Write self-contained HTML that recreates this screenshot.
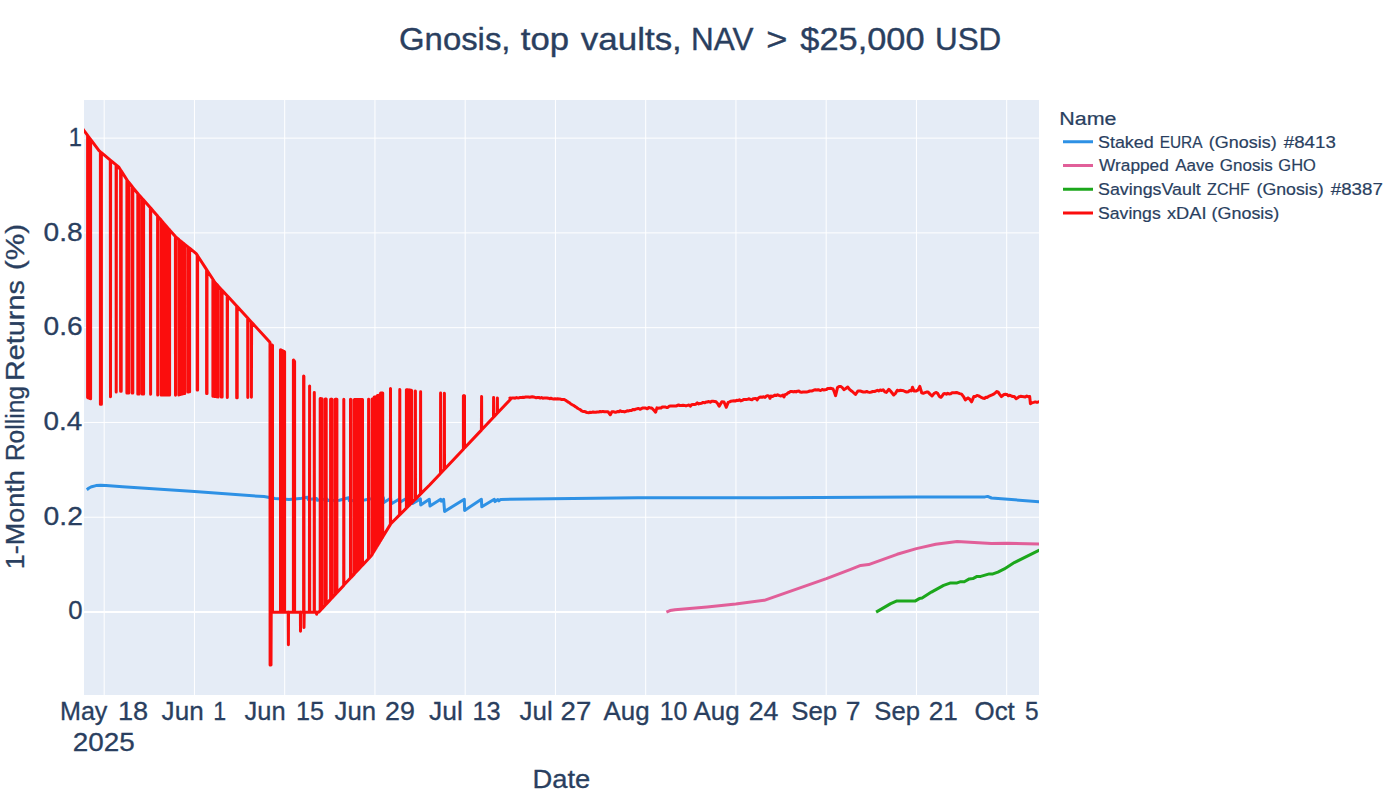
<!DOCTYPE html>
<html><head><meta charset="utf-8"><title>Gnosis, top vaults</title>
<style>
html,body{margin:0;padding:0;background:#fff;}
body{width:1400px;height:800px;overflow:hidden;}
svg{display:block;}
text{font-family:"Liberation Sans",sans-serif;fill:#2a3f5f;stroke:#2a3f5f;}
</style></head><body>
<svg width="1400" height="800" viewBox="0 0 1400 800">
<defs><clipPath id="c"><rect x="84" y="100" width="955" height="595"/></clipPath></defs>
<rect width="1400" height="800" fill="#fff"/>
<rect x="84" y="100" width="955" height="595" fill="#e5ecf6"/>
<rect x="103.70" y="100" width="1" height="595" fill="#fff"/>
<rect x="193.95" y="100" width="1" height="595" fill="#fff"/>
<rect x="284.20" y="100" width="1" height="595" fill="#fff"/>
<rect x="374.45" y="100" width="1" height="595" fill="#fff"/>
<rect x="464.70" y="100" width="1" height="595" fill="#fff"/>
<rect x="554.95" y="100" width="1" height="595" fill="#fff"/>
<rect x="645.20" y="100" width="1" height="595" fill="#fff"/>
<rect x="735.45" y="100" width="1" height="595" fill="#fff"/>
<rect x="825.70" y="100" width="1" height="595" fill="#fff"/>
<rect x="915.95" y="100" width="1" height="595" fill="#fff"/>
<rect x="1006.20" y="100" width="1" height="595" fill="#fff"/>
<rect x="84" y="516.72" width="955" height="1" fill="#fff"/>
<rect x="84" y="421.94" width="955" height="1" fill="#fff"/>
<rect x="84" y="327.16" width="955" height="1" fill="#fff"/>
<rect x="84" y="232.38" width="955" height="1" fill="#fff"/>
<rect x="84" y="137.60" width="955" height="1" fill="#fff"/>
<rect x="84" y="611.00" width="955" height="2" fill="#fff"/>
<g clip-path="url(#c)" fill="none" stroke-linejoin="round" stroke-linecap="butt">
<path d="M86.8,489.7L89.0,488.0L91.7,486.7L96.0,485.6L100.7,485.2L106.0,485.4L122.6,486.7L194.6,491.6L264.0,496.6L275.0,498.4L289.0,499.4L300.0,498.6L307.4,497.2L308.2,499.6L316.6,498.6L317.4,500.3L327.0,499.0L328.0,500.6L339.4,500.2L348.6,497.7L349.4,500.8L364.6,500.0L372.0,498.6L383.4,497.8L383.9,502.5L390.6,498.3L391.1,504.0L399.4,499.0L399.9,502.2L405.0,499.2L411.5,497.9L412.2,503.6L420.4,498.9L420.7,505.0L429.3,499.3L430.0,506.1L440.7,499.3L441.4,501.2L443.6,499.3L444.6,511.4L464.3,499.3L464.6,510.4L481.4,499.3L481.8,506.8L494.3,499.3L495.0,501.6L497.9,499.6L498.9,500.8L500.7,499.4L638.0,497.7L770.0,497.7L916.0,497.1L985.0,496.9L987.6,496.4L991.5,498.0L1039.0,501.7L1041.0,501.9" stroke="#2E91E5" stroke-width="3"/>
<path d="M666.4,612.1L670.0,610.6L675.0,609.7L707.1,606.9L735.7,604.0L764.3,600.3L826.4,578.6L850.0,569.7L860.7,565.4L868.6,564.6L897.1,554.3L916.4,548.6L935.7,544.3L957.1,541.4L991.4,543.6L1007.1,543.3L1038.9,544.0L1041.0,544.0" stroke="#E15F99" stroke-width="3"/>
<path d="M876.1,612.1L890.7,603.6L896.4,601.1L915.0,601.1L919.3,598.6L922.1,598.1L931.4,592.1L943.6,585.4L950.0,583.1L957.1,582.9L960.7,581.7L964.3,581.7L969.3,578.9L972.9,578.6L977.1,576.4L980.7,576.4L989.3,573.9L992.9,573.9L997.9,572.1L1004.3,568.9L1014.3,562.6L1038.9,550.4L1041.0,549.4" stroke="#1CA71C" stroke-width="3"/>
<path d="M82.0,127.9L84.0,130.6L87.6,135.4L87.6,397.6L88.1,397.8L88.1,136.1L88.6,136.7L88.6,398.0L89.1,398.1L89.1,137.4L89.6,138.1L89.6,398.3L90.1,398.5L90.1,138.8L90.6,139.4L90.6,398.7L90.6,139.4L99.0,150.7L100.4,151.9L100.4,404.2L100.9,404.2L100.9,152.3L101.4,152.7L101.4,404.2L101.4,152.7L110.3,160.1L110.5,396.7L110.6,160.3L116.1,164.9L116.2,392.1L116.4,165.1L118.6,166.9L120.6,170.0L120.6,391.2L120.9,391.2L120.9,170.5L121.2,170.9L121.2,391.2L121.2,170.9L126.9,179.8L126.9,393.0L127.3,393.0L127.3,180.4L127.8,181.1L127.8,393.0L128.2,393.0L128.2,181.6L128.7,182.2L128.7,393.0L128.7,182.2L132.1,186.5L132.1,393.1L132.4,393.1L132.4,187.0L132.8,187.5L132.8,393.1L132.8,187.5L133.8,188.7L137.8,193.5L137.8,394.1L138.1,394.1L138.1,193.9L138.4,194.2L138.4,394.1L138.7,394.1L138.7,194.6L139.1,195.0L139.1,394.1L139.1,195.0L140.0,196.1L142.2,198.5L142.2,394.1L142.6,394.1L142.6,198.9L142.9,199.3L142.9,394.1L143.3,394.1L143.3,199.6L143.6,200.0L143.6,394.1L143.6,200.0L146.2,202.9L150.4,207.8L150.6,394.2L150.7,208.1L153.8,211.7L157.6,216.1L157.7,394.9L157.8,216.4L161.1,220.1L161.1,394.9L161.6,394.9L161.6,220.7L162.1,221.3L162.1,394.9L162.7,394.9L162.7,221.9L163.2,222.6L163.2,394.9L163.7,394.9L163.7,223.2L164.3,223.8L164.3,394.9L164.8,394.9L164.8,224.4L165.3,225.0L165.3,394.9L165.9,394.9L165.9,225.6L166.4,226.2L166.4,394.9L166.9,394.9L166.9,226.9L167.5,227.5L167.5,394.9L168.0,394.9L168.0,228.1L168.5,228.7L168.5,394.9L169.1,394.9L169.1,229.3L169.6,229.9L169.6,394.9L169.6,229.9L175.4,236.6L175.5,395.3L175.6,236.9L176.0,237.3L178.8,239.5L178.8,394.9L179.2,394.8L179.2,239.9L179.7,240.3L179.7,394.7L180.2,394.5L180.2,240.7L180.7,241.1L180.7,394.4L181.2,394.3L181.2,241.5L181.7,241.9L181.7,394.1L182.2,394.0L182.2,242.3L182.7,242.7L182.7,393.9L183.2,393.8L183.2,243.1L183.7,243.5L183.7,393.6L184.2,393.5L184.2,243.9L184.7,244.3L184.7,393.4L184.7,244.3L187.9,246.9L187.9,392.1L188.4,392.0L188.4,247.3L188.8,247.6L188.8,391.9L189.2,391.8L189.2,247.9L189.6,248.2L189.6,391.7L189.6,248.2L196.2,253.6L197.2,255.1L197.2,389.9L197.4,389.9L197.4,255.4L197.6,255.7L197.6,389.9L197.6,255.7L206.6,269.6L206.6,393.6L206.8,393.6L206.8,269.9L207.0,270.2L207.0,393.6L207.0,270.2L212.9,279.3L212.9,396.2L213.4,396.3L213.4,280.1L213.9,280.9L213.9,396.3L214.5,396.4L214.5,281.7L215.0,282.5L215.0,396.5L215.5,396.6L215.5,283.0L216.0,283.6L216.0,396.6L216.5,396.7L216.5,284.2L217.1,284.7L217.1,396.8L217.6,396.8L217.6,285.3L218.1,285.9L218.1,396.9L218.1,285.9L221.3,289.4L221.3,397.1L221.7,397.1L221.7,289.8L222.1,290.2L222.1,397.1L222.1,290.2L227.2,295.8L227.3,397.6L227.5,296.1L236.7,306.1L236.7,397.8L236.9,397.8L236.9,306.4L237.2,306.6L237.2,397.8L237.2,306.6L247.7,318.1L247.8,397.6L247.9,318.3L251.3,322.0L251.4,397.3L251.6,322.3L269.0,341.2L270.0,342.4L270.0,342.4L270.1,665.0L271.0,665.0L271.2,612.3L271.3,344.8L271.9,612.3L272.5,345.2L272.5,612.3L280.5,612.3L280.5,349.8L281.0,350.0L281.0,612.3L281.5,612.3L281.5,350.3L282.0,350.5L282.0,612.3L282.6,612.3L282.6,350.8L283.1,351.0L283.1,612.3L283.6,612.3L283.6,351.3L284.1,351.5L284.1,612.3L284.6,612.3L284.6,351.8L284.6,612.3L288.2,612.3L288.4,644.7L288.5,612.3L293.4,612.3L293.4,359.9L293.7,360.2L293.7,612.3L294.0,612.3L294.0,360.5L294.3,361.0L294.3,612.3L294.6,612.3L294.6,361.5L294.6,612.3L300.4,612.3L300.5,631.2L300.6,612.3L303.6,612.3L303.6,375.9L303.9,376.3L304.0,627.5L304.2,612.3L309.4,612.3L309.6,385.9L309.7,612.3L314.2,612.3L314.3,392.5L314.4,612.3L316.5,612.3L316.6,614.3L316.8,612.3L318.6,612.3L320.2,610.6L320.2,398.6L320.6,398.6L320.6,610.1L321.1,609.6L321.1,398.7L321.6,398.7L321.6,609.1L322.0,608.6L322.0,398.7L322.0,608.6L325.2,605.2L325.2,398.9L325.7,398.9L325.7,604.6L326.2,604.1L326.2,399.0L326.2,604.1L330.6,599.4L330.6,399.2L331.0,399.2L331.0,599.0L331.3,598.7L331.3,399.2L331.6,399.2L331.6,598.3L332.0,597.9L332.0,399.2L332.0,597.9L335.2,594.4L335.2,399.2L335.7,399.2L335.7,594.0L336.1,593.5L336.1,399.2L336.5,399.2L336.5,593.1L336.9,592.7L336.9,399.2L336.9,592.7L343.7,585.4L343.8,399.2L343.9,585.1L350.5,578.0L350.5,399.3L350.8,399.4L350.8,577.7L351.1,577.4L351.1,399.4L351.1,577.4L354.4,573.9L354.4,399.5L354.9,399.5L354.9,573.3L355.4,572.8L355.4,399.5L355.9,399.5L355.9,572.2L356.4,571.7L356.4,399.5L356.9,399.5L356.9,571.1L357.4,570.6L357.4,399.5L357.9,399.5L357.9,570.1L358.4,569.5L358.4,399.6L359.0,399.6L359.0,569.0L359.5,568.4L359.5,399.6L360.0,399.6L360.0,567.9L360.5,567.3L360.5,399.6L361.0,399.6L361.0,566.8L361.5,566.3L361.5,399.5L362.0,399.5L362.0,565.7L362.5,565.2L362.5,399.5L362.5,565.2L368.5,558.7L368.6,399.2L368.8,558.4L371.5,555.5L372.1,554.6L372.1,399.1L372.6,399.1L372.6,553.7L373.1,552.8L373.1,399.1L373.6,399.1L373.6,552.0L374.2,551.1L374.2,396.9L374.7,396.9L374.7,550.2L375.2,549.3L375.2,396.9L375.8,396.9L375.8,548.5L376.3,547.6L376.3,396.9L376.8,396.3L376.8,546.7L377.4,545.8L377.4,395.4L377.9,395.4L377.9,544.9L378.4,544.1L378.4,395.4L379.0,395.4L379.0,543.2L379.5,542.3L379.5,395.4L380.0,394.5L380.0,541.4L380.6,540.6L380.6,393.1L381.1,393.1L381.1,539.7L381.6,538.8L381.6,393.1L382.2,393.1L382.2,537.9L382.7,537.0L382.7,393.1L382.7,537.0L390.4,524.4L390.5,388.6L390.6,524.0L390.8,523.7L399.6,514.9L399.8,389.4L399.9,514.7L406.4,508.1L406.4,389.7L406.9,389.7L406.9,507.6L407.5,507.1L407.5,389.8L408.0,389.8L408.0,506.6L408.5,506.0L408.5,389.9L409.0,390.0L409.0,505.5L409.6,505.0L409.6,390.0L410.1,390.1L410.1,504.4L410.6,503.9L410.6,390.2L411.2,390.3L411.2,503.4L411.7,502.9L411.7,390.4L411.7,502.9L415.2,499.3L415.4,390.9L415.5,499.1L420.5,494.1L420.6,391.7L420.7,493.9L429.6,485.0L440.5,473.5L440.6,392.9L440.7,473.2L444.2,469.5L444.4,393.3L444.5,469.2L463.4,449.2L463.4,395.7L463.7,395.8L463.7,448.9L463.9,448.6L463.9,395.8L464.2,395.8L464.2,448.3L464.5,448.0L464.5,395.8L464.5,448.0L481.4,430.1L481.6,396.5L481.7,429.8L493.5,417.2L493.6,397.5L493.8,417.0L497.3,413.3L497.4,397.9L497.5,413.0L511.0,398.8L509.9,397.9L511.2,398.3L511.2,398.3L512.5,398.1L513.8,397.9L515.1,398.2L516.5,397.6L517.8,397.9L519.1,397.7L520.4,397.4L521.7,397.6L523.0,397.2L524.3,397.4L525.6,397.0L527.0,397.0L528.3,397.1L529.6,397.3L530.9,397.0L532.2,396.8L533.6,397.0L534.9,397.4L536.2,397.8L537.6,397.6L538.9,397.5L540.3,398.1L541.6,397.5L542.9,398.2L544.3,397.9L545.6,397.9L546.9,398.0L548.3,398.2L549.6,398.7L550.9,398.3L552.3,398.7L553.6,398.9L554.9,398.8L556.3,399.0L557.6,398.8L559.0,398.9L560.3,399.1L561.6,399.5L563.0,399.4L564.3,399.6L565.6,400.3L567.0,401.3L568.3,402.1L569.6,402.8L570.9,404.0L572.3,404.8L573.6,405.3L574.9,406.4L576.3,407.2L577.6,408.3L578.9,409.0L580.2,409.6L581.6,410.9L582.9,411.4L584.4,411.4L585.8,412.0L587.2,412.6L588.7,412.7L590.1,412.3L591.5,412.4L593.0,412.0L594.4,412.3L595.8,412.2L597.2,412.0L598.6,412.1L600.1,411.5L601.5,411.7L602.9,411.4L604.6,411.7L606.3,411.8L608.0,411.8L610.3,414.7L611.9,411.8L613.3,411.7L614.7,412.2L616.1,412.2L617.5,411.5L618.9,411.7L620.2,410.7L621.6,411.6L623.0,411.4L624.4,411.9L625.8,411.5L627.2,410.7L628.6,410.9L630.0,410.5L631.4,410.6L632.9,409.4L634.3,409.8L635.7,409.1L637.1,408.8L638.6,408.4L640.0,409.3L641.4,408.6L642.9,407.9L644.3,408.0L645.8,408.1L647.3,408.8L648.8,407.5L650.2,407.9L651.7,407.9L653.7,410.1L655.6,412.2L656.9,407.9L658.3,408.3L659.6,408.1L661.0,408.0L662.3,407.0L663.7,407.1L665.1,406.9L666.4,407.5L667.8,407.5L669.1,406.2L670.5,406.1L671.8,406.0L673.2,405.9L674.6,406.1L675.9,406.1L677.3,405.5L678.6,405.0L680.0,405.6L681.5,405.4L683.0,405.2L684.5,405.4L686.0,405.9L687.5,405.4L689.0,405.0L690.3,406.2L691.5,404.8L693.0,404.5L694.4,404.4L695.9,404.2L697.3,402.9L698.8,403.9L700.2,403.4L701.6,403.3L703.1,402.4L704.5,402.8L706.0,402.1L707.4,402.0L708.8,401.5L710.3,402.3L711.7,401.3L713.1,401.3L714.6,401.4L716.0,401.8L717.6,403.5L719.2,406.3L721.8,401.8L724.0,402.0L726.3,407.3L728.2,402.4L729.6,401.9L731.0,401.2L732.5,400.9L733.9,400.8L735.3,401.1L736.7,400.3L738.1,400.5L739.4,399.8L740.8,400.9L742.2,400.4L743.6,399.5L745.0,399.5L746.3,399.4L747.7,399.3L749.1,398.7L750.5,399.6L751.9,399.7L753.2,398.7L754.6,398.6L756.0,398.4L757.1,400.0L758.2,398.2L759.6,397.3L760.9,397.1L762.2,397.2L763.6,396.8L765.0,397.4L766.3,396.2L767.6,395.7L769.0,396.2L770.0,398.3L771.0,396.0L772.3,396.6L773.6,395.8L775.0,395.1L776.3,395.6L777.6,394.7L778.9,395.4L780.3,395.9L781.6,395.7L782.9,395.0L784.0,396.9L785.0,394.6L786.4,394.3L787.8,393.0L789.1,392.5L790.5,391.6L791.9,391.5L793.3,391.9L794.7,391.5L796.1,391.9L797.5,391.2L798.9,391.1L800.2,392.0L801.6,392.2L803.0,392.0L804.4,392.0L805.8,392.0L807.2,391.9L808.6,391.5L810.0,390.9L811.3,391.1L812.7,390.7L814.1,390.0L815.4,389.8L816.8,390.0L818.2,389.7L819.5,390.2L820.9,390.4L822.3,389.4L823.6,390.0L825.0,389.8L826.4,389.6L827.7,388.5L829.1,388.5L831.0,388.3L833.0,389.0L834.3,391.9L835.6,395.7L837.5,387.6L839.1,386.5L840.7,386.4L842.3,387.6L843.9,389.6L845.8,388.5L847.8,387.0L849.3,389.1L850.8,390.5L852.3,391.5L853.9,393.0L855.5,394.5L858.0,390.9L860.0,390.9L861.7,391.5L863.4,392.1L865.1,392.1L866.7,391.4L868.2,392.1L869.8,392.4L871.3,392.0L872.9,391.5L874.4,391.6L875.8,391.0L877.3,390.3L878.7,391.0L880.2,390.0L881.6,390.5L883.1,389.8L884.8,391.8L886.4,392.4L888.9,389.3L890.5,391.0L892.1,393.0L893.7,395.0L895.5,393.3L897.3,390.2L898.8,390.8L900.4,390.2L901.9,390.4L903.5,390.7L905.0,391.5L906.6,392.0L908.2,391.7L909.8,390.5L911.4,390.9L912.5,387.3L914.0,390.9L916.0,391.0L917.9,390.2L919.8,386.4L921.7,392.8L923.3,393.3L924.9,392.7L926.5,392.1L928.1,392.1L930.0,394.1L932.0,396.0L934.0,393.6L935.9,392.4L937.6,393.3L939.3,396.4L941.0,397.3L942.3,395.7L943.6,393.7L945.0,393.6L946.4,394.2L947.8,393.3L949.2,393.9L950.7,393.7L952.1,392.7L953.5,392.7L954.9,392.7L956.3,392.5L957.7,392.8L959.7,393.6L961.6,394.1L963.5,396.6L965.4,399.9L966.7,398.8L968.0,397.9L969.8,399.3L971.6,401.8L973.8,396.6L975.4,396.6L977.0,395.4L978.6,395.9L980.2,396.8L981.8,397.7L983.4,398.3L984.7,398.4L986.0,397.2L987.3,397.4L988.6,396.3L990.3,395.6L992.0,394.9L993.7,394.1L995.3,392.8L996.9,391.5L998.2,392.1L999.5,394.1L1001.4,396.6L1002.7,395.5L1004.0,394.5L1005.5,394.3L1006.9,394.4L1008.4,395.8L1009.9,395.2L1011.4,396.0L1012.8,396.6L1014.3,396.6L1016.2,398.6L1017.8,397.7L1019.4,396.6L1020.9,396.3L1022.3,396.6L1023.8,396.7L1025.3,397.0L1026.8,396.0L1028.2,396.7L1029.7,396.6L1030.4,403.7L1032.0,402.7L1033.6,402.4L1035.3,401.9L1037.0,402.4L1038.7,401.8L1041.0,401.8" stroke="#FB0D0D" stroke-width="3"/>
</g>
<text x="59.94" y="719.8" font-size="25.4" stroke-width="0.30" textLength="47.51" lengthAdjust="spacingAndGlyphs">May</text>
<text x="117.93" y="719.8" font-size="25.4" stroke-width="0.30" textLength="30.25" lengthAdjust="spacingAndGlyphs">18</text>
<text x="161.59" y="719.8" font-size="25.4" stroke-width="0.30" textLength="42.10" lengthAdjust="spacingAndGlyphs">Jun</text>
<text x="213.23" y="719.8" font-size="25.4" stroke-width="0.30" textLength="12.90" lengthAdjust="spacingAndGlyphs">1</text>
<text x="244.60" y="719.8" font-size="25.4" stroke-width="0.30" textLength="41.05" lengthAdjust="spacingAndGlyphs">Jun</text>
<text x="296.08" y="719.8" font-size="25.4" stroke-width="0.30" textLength="27.97" lengthAdjust="spacingAndGlyphs">15</text>
<text x="334.60" y="719.8" font-size="25.4" stroke-width="0.30" textLength="41.47" lengthAdjust="spacingAndGlyphs">Jun</text>
<text x="385.05" y="719.8" font-size="25.4" stroke-width="0.30" textLength="29.82" lengthAdjust="spacingAndGlyphs">29</text>
<text x="428.99" y="719.8" font-size="25.4" stroke-width="0.30" textLength="33.78" lengthAdjust="spacingAndGlyphs">Jul</text>
<text x="472.47" y="719.8" font-size="25.4" stroke-width="0.30" textLength="28.25" lengthAdjust="spacingAndGlyphs">13</text>
<text x="519.59" y="719.8" font-size="25.4" stroke-width="0.30" textLength="33.14" lengthAdjust="spacingAndGlyphs">Jul</text>
<text x="560.61" y="719.8" font-size="25.4" stroke-width="0.30" textLength="30.78" lengthAdjust="spacingAndGlyphs">27</text>
<text x="603.55" y="719.8" font-size="25.4" stroke-width="0.30" textLength="46.12" lengthAdjust="spacingAndGlyphs">Aug</text>
<text x="659.71" y="719.8" font-size="25.4" stroke-width="0.30" textLength="27.67" lengthAdjust="spacingAndGlyphs">10</text>
<text x="693.55" y="719.8" font-size="25.4" stroke-width="0.30" textLength="46.12" lengthAdjust="spacingAndGlyphs">Aug</text>
<text x="748.66" y="719.8" font-size="25.4" stroke-width="0.30" textLength="29.73" lengthAdjust="spacingAndGlyphs">24</text>
<text x="791.23" y="719.8" font-size="25.4" stroke-width="0.30" textLength="45.85" lengthAdjust="spacingAndGlyphs">Sep</text>
<text x="845.65" y="719.8" font-size="25.4" stroke-width="0.30" textLength="14.68" lengthAdjust="spacingAndGlyphs">7</text>
<text x="874.34" y="719.8" font-size="25.4" stroke-width="0.30" textLength="45.54" lengthAdjust="spacingAndGlyphs">Sep</text>
<text x="928.68" y="719.8" font-size="25.4" stroke-width="0.30" textLength="29.09" lengthAdjust="spacingAndGlyphs">21</text>
<text x="974.47" y="719.8" font-size="25.4" stroke-width="0.30" textLength="40.32" lengthAdjust="spacingAndGlyphs">Oct</text>
<text x="1024.92" y="719.8" font-size="25.4" stroke-width="0.30" textLength="13.61" lengthAdjust="spacingAndGlyphs">5</text>
<text x="72.80" y="750.6" font-size="25.4" stroke-width="0.30" textLength="61.97" lengthAdjust="spacingAndGlyphs">2025</text>
<text x="68.19" y="619.4" font-size="25.4" stroke-width="0.30" textLength="14.31" lengthAdjust="spacingAndGlyphs">0</text>
<text x="43.59" y="524.7" font-size="25.4" stroke-width="0.30" textLength="39.33" lengthAdjust="spacingAndGlyphs">0.2</text>
<text x="43.61" y="430.1" font-size="25.4" stroke-width="0.30" textLength="38.70" lengthAdjust="spacingAndGlyphs">0.4</text>
<text x="43.60" y="335.4" font-size="25.4" stroke-width="0.30" textLength="39.14" lengthAdjust="spacingAndGlyphs">0.6</text>
<text x="43.60" y="240.7" font-size="25.4" stroke-width="0.30" textLength="39.12" lengthAdjust="spacingAndGlyphs">0.8</text>
<text x="68.80" y="146.1" font-size="25.4" stroke-width="0.30" textLength="13.16" lengthAdjust="spacingAndGlyphs">1</text>
<text x="399.05" y="49.5" font-size="31.7" stroke-width="0.38" textLength="111.41" lengthAdjust="spacingAndGlyphs">Gnosis,</text>
<text x="520.78" y="49.5" font-size="31.7" stroke-width="0.38" textLength="48.18" lengthAdjust="spacingAndGlyphs">top</text>
<text x="580.88" y="49.5" font-size="31.7" stroke-width="0.38" textLength="100.96" lengthAdjust="spacingAndGlyphs">vaults,</text>
<text x="691.11" y="49.5" font-size="31.7" stroke-width="0.38" textLength="62.32" lengthAdjust="spacingAndGlyphs">NAV</text>
<text x="766.21" y="49.5" font-size="31.7" stroke-width="0.38" textLength="21.16" lengthAdjust="spacingAndGlyphs">&gt;</text>
<text x="800.33" y="49.5" font-size="31.7" stroke-width="0.38" textLength="124.21" lengthAdjust="spacingAndGlyphs">$25,000</text>
<text x="934.98" y="49.5" font-size="31.7" stroke-width="0.38" textLength="66.33" lengthAdjust="spacingAndGlyphs">USD</text>
<text x="532.46" y="788" font-size="25.4" stroke-width="0.30" textLength="57.76" lengthAdjust="spacingAndGlyphs">Date</text>
<text transform="translate(23.9,567.1) rotate(-90)" x="-2.05" y="0" font-size="25.4" stroke-width="0.30" textLength="98.90" lengthAdjust="spacingAndGlyphs">1-Month</text>
<text transform="translate(23.9,459.1) rotate(-90)" x="-2.02" y="0" font-size="25.4" stroke-width="0.30" textLength="75.10" lengthAdjust="spacingAndGlyphs">Rolling</text>
<text transform="translate(23.9,378.6) rotate(-90)" x="-2.36" y="0" font-size="25.4" stroke-width="0.30" textLength="100.80" lengthAdjust="spacingAndGlyphs">Returns</text>
<text transform="translate(23.9,268.4) rotate(-90)" x="-1.85" y="0" font-size="25.4" stroke-width="0.30" textLength="46.51" lengthAdjust="spacingAndGlyphs">(%)</text>
<text x="1059.24" y="124.6" font-size="19.2" stroke-width="0.23" textLength="57.21" lengthAdjust="spacingAndGlyphs">Name</text>
<rect x="1063" y="140.25" width="30" height="3" fill="#2E91E5"/>
<text x="1097.99" y="147.65" font-size="16.9" stroke-width="0.20" textLength="55.77" lengthAdjust="spacingAndGlyphs">Staked</text>
<text x="1159.63" y="147.65" font-size="16.9" stroke-width="0.20" textLength="42.90" lengthAdjust="spacingAndGlyphs">EURA</text>
<text x="1208.89" y="147.65" font-size="16.9" stroke-width="0.20" textLength="67.83" lengthAdjust="spacingAndGlyphs">(Gnosis)</text>
<text x="1283.82" y="147.65" font-size="16.9" stroke-width="0.20" textLength="52.00" lengthAdjust="spacingAndGlyphs">#8413</text>
<rect x="1063" y="164.00" width="30" height="3" fill="#E15F99"/>
<text x="1099.12" y="171.40" font-size="16.9" stroke-width="0.20" textLength="69.68" lengthAdjust="spacingAndGlyphs">Wrapped</text>
<text x="1175.17" y="171.40" font-size="16.9" stroke-width="0.20" textLength="38.79" lengthAdjust="spacingAndGlyphs">Aave</text>
<text x="1219.85" y="171.40" font-size="16.9" stroke-width="0.20" textLength="52.87" lengthAdjust="spacingAndGlyphs">Gnosis</text>
<text x="1278.37" y="171.40" font-size="16.9" stroke-width="0.20" textLength="37.52" lengthAdjust="spacingAndGlyphs">GHO</text>
<rect x="1063" y="187.75" width="30" height="3" fill="#1CA71C"/>
<text x="1098.00" y="195.15" font-size="16.9" stroke-width="0.20" textLength="102.83" lengthAdjust="spacingAndGlyphs">SavingsVault</text>
<text x="1207.09" y="195.15" font-size="16.9" stroke-width="0.20" textLength="42.85" lengthAdjust="spacingAndGlyphs">ZCHF</text>
<text x="1256.50" y="195.15" font-size="16.9" stroke-width="0.20" textLength="67.10" lengthAdjust="spacingAndGlyphs">(Gnosis)</text>
<text x="1330.82" y="195.15" font-size="16.9" stroke-width="0.20" textLength="52.02" lengthAdjust="spacingAndGlyphs">#8387</text>
<rect x="1063" y="211.50" width="30" height="3" fill="#FB0D0D"/>
<text x="1098.00" y="218.90" font-size="16.9" stroke-width="0.20" textLength="62.74" lengthAdjust="spacingAndGlyphs">Savings</text>
<text x="1166.99" y="218.90" font-size="16.9" stroke-width="0.20" textLength="39.59" lengthAdjust="spacingAndGlyphs">xDAI</text>
<text x="1211.49" y="218.90" font-size="16.9" stroke-width="0.20" textLength="67.83" lengthAdjust="spacingAndGlyphs">(Gnosis)</text>
</svg>
</body></html>
